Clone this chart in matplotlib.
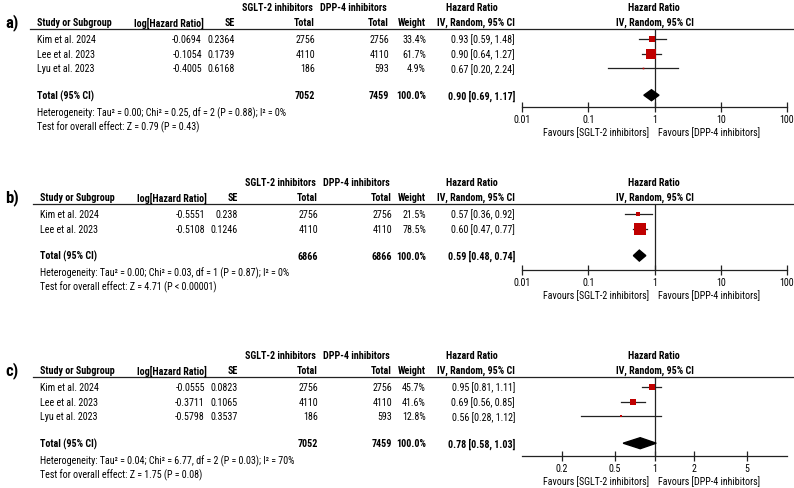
import matplotlib
matplotlib.use("Agg")
import matplotlib.pyplot as plt
from matplotlib import font_manager
from matplotlib.lines import Line2D

# ---- data ----
studies_a = ["Kim et al. 2024", "Lee et al. 2023", "Lyu et al. 2023"]
loghr_a = [-0.0694, -0.1054, -0.4005]
se_a = ["0.2364", "0.1739", "0.6168"]
sglt_a = [2756, 4110, 186]
dpp_a = [2756, 4110, 593]
weight_a = [33.4, 61.7, 4.9]
hr_a = [0.93, 0.90, 0.67]
lo_a = [0.59, 0.64, 0.20]
hi_a = [1.48, 1.27, 2.24]
total_a = [7052, 7459, "100.0%", 0.90, 0.69, 1.17]
het_a = "Heterogeneity: Tau² = 0.00; Chi² = 0.25, df = 2 (P = 0.88); I² = 0%"
test_a = "Test for overall effect: Z = 0.79 (P = 0.43)"

studies_b = ["Kim et al. 2024", "Lee et al. 2023"]
loghr_b = [-0.5551, -0.5108]
se_b = ["0.238", "0.1246"]
sglt_b = [2756, 4110]
dpp_b = [2756, 4110]
weight_b = [21.5, 78.5]
hr_b = [0.57, 0.60]
lo_b = [0.36, 0.47]
hi_b = [0.92, 0.77]
total_b = [6866, 6866, "100.0%", 0.59, 0.48, 0.74]
het_b = "Heterogeneity: Tau² = 0.00; Chi² = 0.03, df = 1 (P = 0.87); I² = 0%"
test_b = "Test for overall effect: Z = 4.71 (P < 0.00001)"

studies_c = ["Kim et al. 2024", "Lee et al. 2023", "Lyu et al. 2023"]
loghr_c = [-0.0555, -0.3711, -0.5798]
se_c = ["0.0823", "0.1065", "0.3537"]
sglt_c = [2756, 4110, 186]
dpp_c = [2756, 4110, 593]
weight_c = [45.7, 41.6, 12.8]
hr_c = [0.95, 0.69, 0.56]
lo_c = [0.81, 0.56, 0.28]
hi_c = [1.11, 0.85, 1.12]
total_c = [7052, 7459, "100.0%", 0.78, 0.58, 1.03]
het_c = "Heterogeneity: Tau² = 0.04; Chi² = 6.77, df = 2 (P = 0.03); I² = 70%"
test_c = "Test for overall effect: Z = 1.75 (P = 0.08)"

ticks_wide = [0.01, 0.1, 1, 10, 100]
ticklabels_wide = ["0.01", "0.1", "1", "10", "100"]
ticks_narrow = [0.2, 0.5, 1, 2, 5]
ticklabels_narrow = ["0.2", "0.5", "1", "2", "5"]

# ---- layout ----
W, H = 794, 489
names = {f.name for f in font_manager.fontManager.ttflist}
if "Roboto Condensed" in names:
    FAM, FS = "Roboto Condensed", 7.2
else:
    FAM, FS = "Liberation Sans", 6.3

fig = plt.figure(figsize=(W / 100, H / 100), dpi=100)


def fx(px):
    return px / W


def fy(py):
    return 1 - py / H


def txt(x, y, s, **kw):
    kw.setdefault("fontsize", FS)
    fig.text(fx(x), fy(y), s, va="center", family=FAM, **kw)


panels = [
    dict(label="a)", studies=studies_a, loghr=loghr_a, se=se_a, sglt=sglt_a, dpp=dpp_a,
         weight=weight_a, hr=hr_a, lo=lo_a, hi=hi_a, total=total_a, het=het_a, test=test_a,
         ticks=ticks_wide, ticklabels=ticklabels_wide, xlim=(0.01, 100),
         dx=0, top=8, axis=108),
    dict(label="b)", studies=studies_b, loghr=loghr_b, se=se_b, sglt=sglt_b, dpp=dpp_b,
         weight=weight_b, hr=hr_b, lo=lo_b, hi=hi_b, total=total_b, het=het_b, test=test_b,
         ticks=ticks_wide, ticklabels=ticklabels_wide, xlim=(0.01, 100),
         dx=3, top=183, axis=271),
    dict(label="c)", studies=studies_c, loghr=loghr_c, se=se_c, sglt=sglt_c, dpp=dpp_c,
         weight=weight_c, hr=hr_c, lo=lo_c, hi=hi_c, total=total_c, het=het_c, test=test_c,
         ticks=ticks_narrow, ticklabels=ticklabels_narrow, xlim=(0.1, 10),
         dx=3, top=356, axis=457),
]

red = "#c00000"
dark = "#222222"

for p in panels:
    dx = p["dx"]
    g = p["top"]
    hdr = g + 15
    line = g + 22
    rows = [line + 10 + 14.6 * i for i in range(len(p["studies"]))]
    tot = rows[-1] + 27
    het = tot + 17
    test = het + 14

    txt(5, hdr, p["label"], fontsize=12, weight="bold", ha="left")

    # column headers
    txt(313 + dx, g, "SGLT-2 inhibitors", weight="bold", ha="right")
    txt(387 + dx, g, "DPP-4 inhibitors", weight="bold", ha="right")
    txt(472, g, "Hazard Ratio", weight="bold", ha="center")
    txt(654, g, "Hazard Ratio", weight="bold", ha="center")
    txt(37 + dx, hdr, "Study or Subgroup", weight="bold", ha="left")
    txt(204 + dx, hdr, "log[Hazard Ratio]", weight="bold", ha="right")
    txt(235 + dx, hdr, "SE", weight="bold", ha="right")
    txt(315 + dx, hdr, "Total", weight="bold", ha="right")
    txt(389 + dx, hdr, "Total", weight="bold", ha="right")
    txt(426, hdr, "Weight", weight="bold", ha="right")
    txt(476, hdr, "IV, Random, 95% CI", weight="bold", ha="center")
    txt(655, hdr, "IV, Random, 95% CI", weight="bold", ha="center")

    fig.add_artist(Line2D([fx(30 + dx), fx(794)], [fy(line), fy(line)],
                          color=dark, lw=0.9))

    # study rows
    for i, y in enumerate(rows):
        txt(37 + dx, y, p["studies"][i], ha="left")
        txt(202 + dx, y, "%.4f" % p["loghr"][i], ha="right")
        txt(235 + dx, y, p["se"][i], ha="right")
        txt(315 + dx, y, str(p["sglt"][i]), ha="right")
        txt(389 + dx, y, str(p["dpp"][i]), ha="right")
        txt(426, y, "%.1f%%" % p["weight"][i], ha="right")
        txt(515, y, "%.2f [%.2f, %.2f]" % (p["hr"][i], p["lo"][i], p["hi"][i]), ha="right")

    t = p["total"]
    txt(37 + dx, tot, "Total (95% CI)", weight="bold", ha="left")
    txt(315 + dx, tot, str(t[0]), weight="bold", ha="right")
    txt(389 + dx, tot, str(t[1]), weight="bold", ha="right")
    txt(426, tot, t[2], weight="bold", ha="right")
    txt(515, tot, "%.2f [%.2f, %.2f]" % (t[3], t[4], t[5]), weight="bold", ha="right")
    txt(37 + dx, het, p["het"], ha="left")
    txt(37 + dx, test, p["test"], ha="left")

    # forest axes: y in pixel units from top of figure
    x0, x1 = 522, 787
    ax = fig.add_axes([fx(x0), fy(p["axis"]), fx(x1 - x0), (p["axis"] - line) / H])
    ax.set_xscale("log")
    ax.set_xlim(*p["xlim"])
    ax.set_ylim(p["axis"], line)
    ax.patch.set_alpha(0)
    for s in ["top", "left", "right"]:
        ax.spines[s].set_visible(False)
    ax.spines["bottom"].set_color(dark)
    ax.spines["bottom"].set_linewidth(0.9)
    ax.set_yticks([])
    ax.set_xticks(p["ticks"])
    ax.set_xticklabels(p["ticklabels"], family=FAM, fontsize=FS)
    ax.minorticks_off()
    ax.tick_params(axis="x", direction="inout", length=7, width=0.9, color=dark, pad=1.5)
    ax.axvline(1, color=dark, lw=0.9)

    for i, y in enumerate(rows):
        ax.plot([p["lo"][i], p["hi"][i]], [y, y], color=dark, lw=0.9, zorder=2)
        side = 1 + 0.13 * p["weight"][i]
        ax.plot([p["hr"][i]], [y], marker="s", ms=side * 0.72, color=red, mew=0, zorder=3)

    hh = 5.5
    ax.fill([t[4], t[3], t[5], t[3]], [tot, tot - hh, tot, tot + hh],
            color="black", zorder=3, clip_on=False)

    fav_y = p["axis"] + 25
    txt(649, fav_y, "Favours [SGLT-2 inhibitors]", ha="right")
    txt(658, fav_y, "Favours [DPP-4 inhibitors]", ha="left")

fig.savefig("out.png", dpi=100)
